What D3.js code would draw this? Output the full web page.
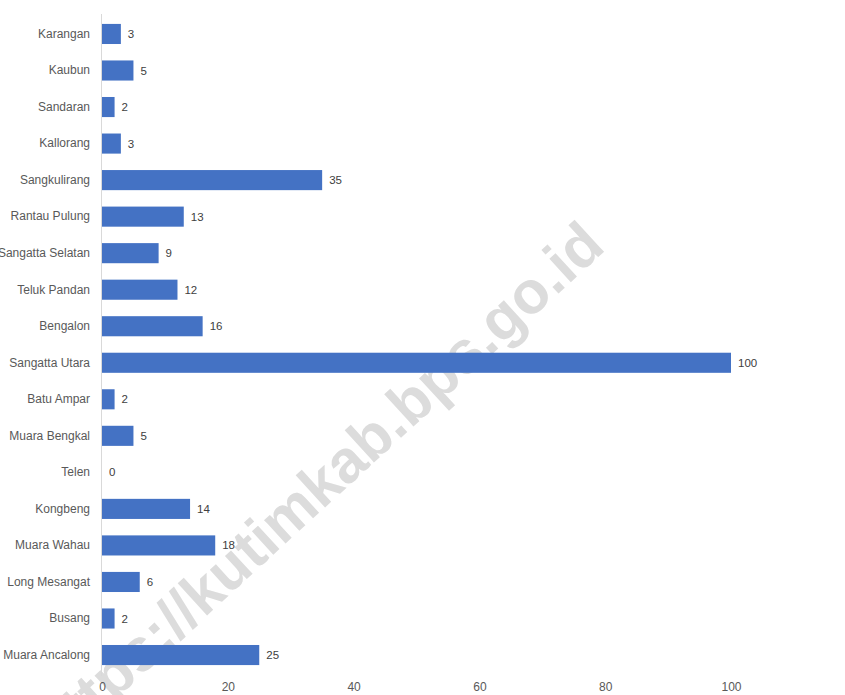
<!DOCTYPE html>
<html>
<head>
<meta charset="utf-8">
<script src="https://cdn.jsdelivr.net/npm/d3@7"></script>
<style>
html,body{margin:0;padding:0;background:#fff;overflow:hidden;}
svg{display:block;}
</style>
</head>
<body>
<svg id="chart" width="845" height="695"></svg>
<script>
const categories = ["Karangan","Kaubun","Sandaran","Kallorang","Sangkulirang","Rantau Pulung","Sangatta Selatan","Teluk Pandan","Bengalon","Sangatta Utara","Batu Ampar","Muara Bengkal","Telen","Kongbeng","Muara Wahau","Long Mesangat","Busang","Muara Ancalong"];
const values = [3,5,2,3,35,13,9,12,16,100,2,5,0,14,18,6,2,25];
const xTicks = [0,20,40,60,80,100];
const watermark = "https://kutimkab.bps.go.id";

const svg = d3.select("#chart");
const font = "'Liberation Sans', Arial, sans-serif";

const x = d3.scaleLinear().domain([0,100]).range([102,731]);
const y = d3.scaleBand().domain(categories).range([15.7,673.3]).paddingInner(0.45).paddingOuter(0.225);

// watermark (behind the bars)
svg.append("text")
  .attr("transform","translate(607,249) rotate(-42.5)")
  .attr("text-anchor","end")
  .attr("font-family",font).attr("font-weight","bold").attr("font-size",60)
  .attr("fill","#dcdcdc")
  .text(watermark);

// axis line
svg.append("line")
  .attr("x1",101.5).attr("x2",101.5).attr("y1",14).attr("y2",676)
  .attr("stroke","#d9d9d9").attr("stroke-width",1);

// bars
svg.selectAll("rect.bar").data(categories).enter().append("rect")
  .attr("class","bar")
  .attr("x",x(0))
  .attr("y",d=>y(d))
  .attr("width",(d,i)=>x(values[i])-x(0))
  .attr("height",y.bandwidth())
  .attr("fill","#4472c4");

// value labels
svg.selectAll("text.val").data(categories).enter().append("text")
  .attr("class","val")
  .attr("x",(d,i)=>x(values[i])+7)
  .attr("y",d=>y(d)+y.bandwidth()/2)
  .attr("dy","0.35em")
  .attr("font-family",font).attr("font-size",11.5)
  .attr("fill","#404040")
  .text((d,i)=>values[i]);

// category labels
const yAxis = d3.axisLeft(y).tickSize(0).tickPadding(0);
const ga = svg.append("g").attr("transform","translate(90,0)").call(yAxis);
ga.select(".domain").remove();
ga.selectAll("text").attr("font-family",font).attr("font-size",12).attr("fill","#595959");

// x axis
const xAxis = d3.axisBottom(x).tickValues(xTicks).tickSize(0).tickPadding(0);
const gx = svg.append("g").attr("transform","translate(0,682)").call(xAxis);
gx.select(".domain").remove();
gx.selectAll("text").attr("font-family",font).attr("font-size",12).attr("fill","#595959");
</script>
</body>
</html>
